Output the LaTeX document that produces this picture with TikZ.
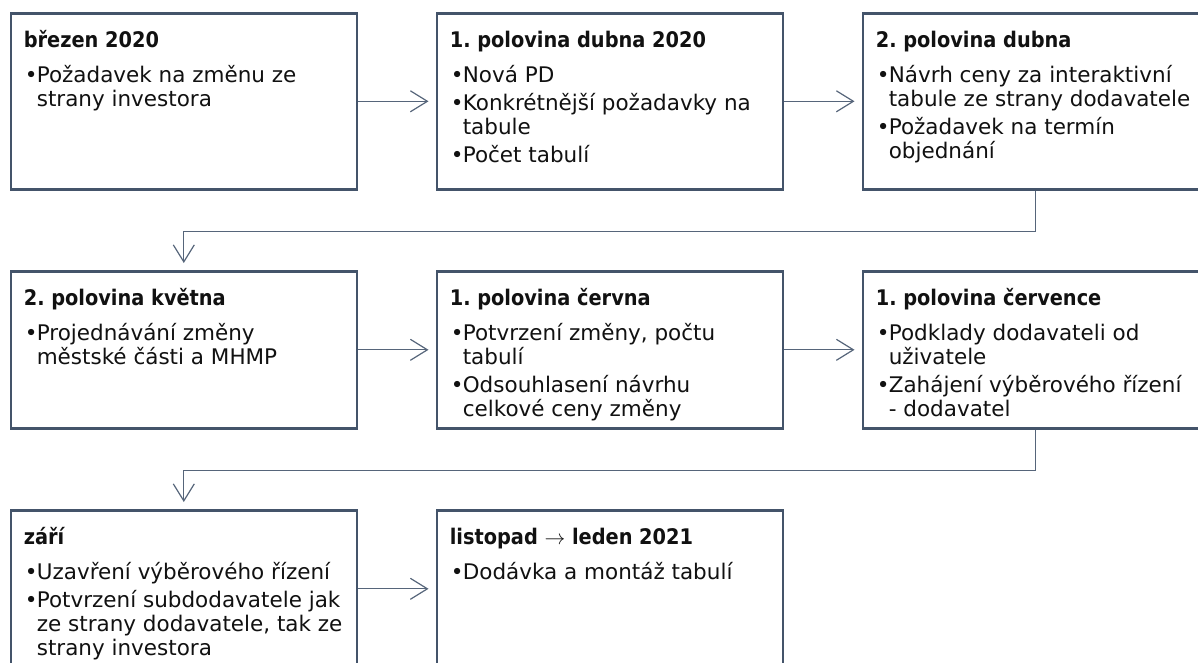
\documentclass[tikz,border=0pt]{standalone}
\usepackage{fontspec}
\setmainfont{DejaVu Sans}
\newfontfamily\titlefont{DejaVu Sans Condensed Bold}
\usetikzlibrary{arrows.meta}
\definecolor{frame}{HTML}{44546A}
\definecolor{link}{HTML}{56657A}
\definecolor{ink}{HTML}{111111}
% stage title and bullet items
\newcommand{\stagetitle}[1]{\noindent{\titlefont\rule{0pt}{34.5pt}#1}\par\vspace{11pt}}
\newcommand{\stageitem}[1]{\hangindent=13pt\hangafter=1\noindent\makebox[13pt][l]{\hspace{1pt}•}#1\par\vspace{4pt}}
\newcommand{\stagebody}[2]{\begin{minipage}[t][#1][t]{320pt}\frenchspacing\fontsize{21.5pt}{24pt}\selectfont\parskip=0pt #2\end{minipage}}
\begin{document}
\begin{tikzpicture}[x=1pt,y=-1pt,
  stagebox/.style={draw=frame, line width=2.6pt, fill=white, text=ink,
    inner xsep=13pt, inner ysep=0pt, anchor=north west},
  link/.style={draw=link, line width=1.2pt,
    -{Straight Barb[length=17pt,width=21pt]}, shorten >=7pt}]
\useasboundingbox (0,0) rectangle (1198,663);
\clip (0,0) rectangle (1198,663);

% first row
\node[stagebox] (b1) at (9.5,12) {\stagebody{176pt}{%
  \stagetitle{březen 2020}
  \stageitem{Požadavek na změnu ze\\strany investora}}};
\node[stagebox] (b2) at (435.5,12) {\stagebody{176pt}{%
  \stagetitle{1. polovina dubna 2020}
  \stageitem{Nová PD}
  \stageitem{Konkrétnější požadavky na\\tabule}
  \stageitem{Počet tabulí}}};
\node[stagebox] (b3) at (861.5,12) {\stagebody{176pt}{%
  \stagetitle{2. polovina dubna}
  \stageitem{Návrh ceny za interaktivní\\tabule ze strany dodavatele}
  \stageitem{Požadavek na termín\\objednání}}};

% second row
\node[stagebox] (b4) at (9.5,270) {\stagebody{157pt}{%
  \stagetitle{2. polovina května}
  \stageitem{Projednávání změny\\městské části a MHMP}}};
\node[stagebox] (b5) at (435.5,270) {\stagebody{157pt}{%
  \stagetitle{1. polovina června}
  \stageitem{Potvrzení změny, počtu\\tabulí}
  \stageitem{Odsouhlasení návrhu\\celkové ceny změny}}};
\node[stagebox] (b6) at (861.5,270) {\stagebody{157pt}{%
  \stagetitle{1. polovina července}
  \stageitem{Podklady dodavateli od\\uživatele}
  \stageitem{Zahájení výběrového řízení\\- dodavatel}}};

% third row
\node[stagebox] (b7) at (9.5,509) {\stagebody{157pt}{%
  \stagetitle{září}
  \stageitem{Uzavření výběrového řízení}
  \stageitem{Potvrzení subdodavatele jak\\ze strany dodavatele, tak ze\\strany investora}}};
\node[stagebox] (b8) at (435.5,509) {\stagebody{157pt}{%
  \stagetitle{listopad $\rightarrow$ leden 2021}
  \stageitem{Dodávka a montáž tabulí}}};

% connectors
\draw[link] (b1.east) -- (b2.west);
\draw[link] (b2.east) -- (b3.west);
\draw[link] (b3.south) -- ++(0,41) -| (b4.north);
\draw[link] (b4.east) -- (b5.west);
\draw[link] (b5.east) -- (b6.west);
\draw[link] (b6.south) -- ++(0,41) -| (b7.north);
\draw[link] (b7.east) -- (b8.west);
\end{tikzpicture}
\end{document}
